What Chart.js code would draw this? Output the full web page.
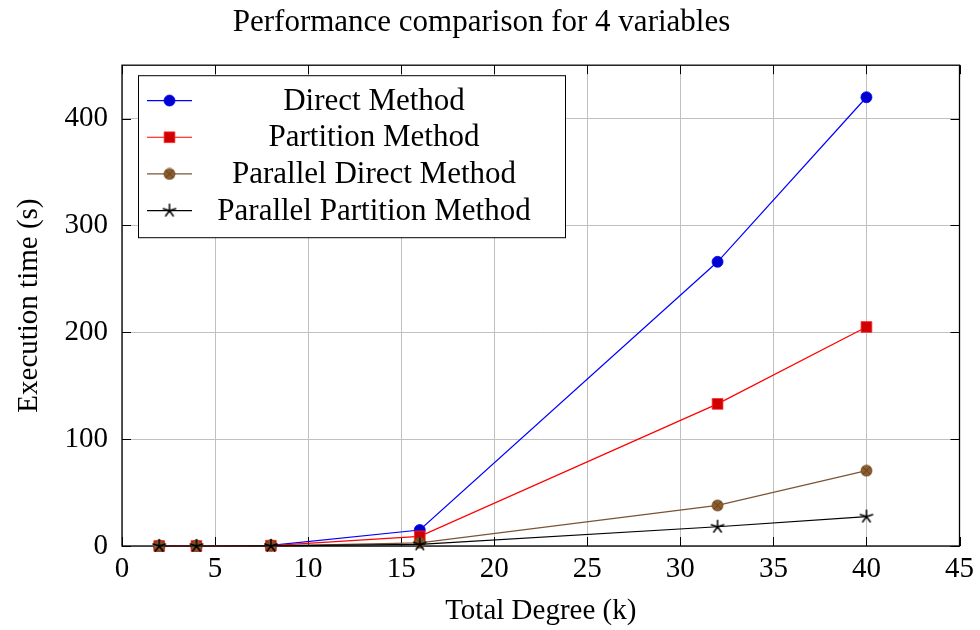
<!DOCTYPE html>
<html>
<head>
<meta charset="utf-8">
<script src="https://cdn.jsdelivr.net/npm/chart.js@4"></script>
<style>
  html, body { margin: 0; padding: 0; background: #fff; }
  #wrap { width: 980px; height: 630px; }
</style>
</head>
<body>
<div id="wrap"><canvas id="grafico" width="980" height="630"></canvas></div>
<script>
// degree values on the x axis
const graus = [2, 4, 8, 16, 32, 40];

// execution times (s)
const direto = [0.01, 0.05, 0.5, 15, 266, 420];
const particao = [0.01, 0.04, 0.3, 9, 133, 205];
const diretoParalelo = [0.01, 0.03, 0.2, 3, 38, 70.5];
const particaoParalela = [0.01, 0.02, 0.1, 1.5, 18, 27.5];

const nomes = ['Direct Method', 'Partition Method', 'Parallel Direct Method', 'Parallel Partition Method'];
const yTicks = [0, 100, 200, 300, 400];

const FONTE = '"Liberation Serif", "Times New Roman", serif';
Chart.defaults.font.family = FONTE;
Chart.defaults.color = '#000';

function pontos(valores) {
    return graus.map((x, i) => ({ x: x, y: valores[i] }));
}

// otimes* marker: filled circle with an x inside
function marcaOtimes(r, fill, stroke) {
    const c = document.createElement('canvas');
    const s = Math.ceil(r * 2 + 2);
    c.width = s; c.height = s;
    const g = c.getContext('2d');
    const m = s / 2;
    g.beginPath();
    g.arc(m, m, r, 0, Math.PI * 2);
    g.fillStyle = fill;
    g.fill();
    g.lineWidth = 0.8;
    g.strokeStyle = stroke;
    g.stroke();
    const d = r * 0.7;
    g.beginPath();
    g.moveTo(m - d, m - d); g.lineTo(m + d, m + d);
    g.moveTo(m + d, m - d); g.lineTo(m - d, m + d);
    g.strokeStyle = '#5a3a1a';
    g.lineWidth = 0.8;
    g.stroke();
    return c;
}

// pgfplots "star": five arms from the centre
function marcaEstrela(r) {
    const c = document.createElement('canvas');
    const s = 2 * Math.ceil(r + 1.5);
    c.width = s; c.height = s;
    const g = c.getContext('2d');
    const m = s / 2;
    g.beginPath();
    for (let k = 0; k < 5; k++) {
        const ang = -Math.PI / 2 + k * 2 * Math.PI / 5;
        g.moveTo(m, m);
        g.lineTo(m + r * Math.cos(ang), m + r * Math.sin(ang));
    }
    g.strokeStyle = '#000';
    g.lineWidth = 1.5;
    g.lineCap = 'round';
    g.stroke();
    return c;
}

const otimes = marcaOtimes(5.5, '#8c5c2c', '#6e4a26');
const estrela = marcaEstrela(6.5);

// frame + inner tick marks like pgfplots
const moldura = {
    id: 'moldura',
    beforeDatasetsDraw(chart) {
        const { ctx, chartArea: a, scales } = chart;
        ctx.save();
        ctx.strokeStyle = '#000';
        ctx.lineWidth = 1;
        const t = 9;
        scales.x.ticks.forEach(tk => {
            const px = Math.round(scales.x.getPixelForValue(tk.value)) + 0.5;
            ctx.beginPath();
            ctx.moveTo(px, a.bottom); ctx.lineTo(px, a.bottom - t);
            ctx.moveTo(px, a.top); ctx.lineTo(px, a.top + t);
            ctx.stroke();
        });
        scales.y.ticks.forEach(tk => {
            const py = Math.round(scales.y.getPixelForValue(tk.value)) + 0.5;
            ctx.beginPath();
            ctx.moveTo(a.left, py); ctx.lineTo(a.left + t, py);
            ctx.moveTo(a.right, py); ctx.lineTo(a.right - t, py);
            ctx.stroke();
        });
        ctx.lineWidth = 1.3;
        ctx.strokeRect(a.left, a.top, a.right - a.left, a.bottom - a.top);
        ctx.restore();
    }
};

// legend box inside the plot, top left
const legenda = {
    id: 'legenda',
    afterDatasetsDraw(chart) {
        const { ctx, chartArea: a } = chart;
        ctx.save();
        ctx.font = '31px ' + FONTE;
        const x0 = a.left + 16, y0 = a.top + 10;
        const w = 427;
        const linha = 36.7;
        const h = 162;
        ctx.fillStyle = '#fff';
        ctx.fillRect(x0, y0, w, h);
        ctx.strokeStyle = '#000';
        ctx.lineWidth = 1;
        ctx.strokeRect(x0 + 0.5, y0 + 0.5, w, h);
        chart.data.datasets.forEach((ds, i) => {
            const cy = y0 + 7 + linha * (i + 0.5);
            ctx.beginPath();
            ctx.strokeStyle = ds.borderColor;
            ctx.lineWidth = ds.borderWidth;
            ctx.moveTo(x0 + 9, cy); ctx.lineTo(x0 + 54, cy);
            ctx.stroke();
            const estilo = ds.pointStyle;
            if (typeof estilo === 'string') {
                ctx.fillStyle = ds.pointBackgroundColor;
                ctx.strokeStyle = ds.pointBorderColor;
                ctx.lineWidth = ds.pointBorderWidth;
                Chart.helpers.drawPoint(ctx, {
                    pointStyle: estilo,
                    radius: ds.pointRadius,
                    borderWidth: ds.pointBorderWidth,
                    rotation: 0
                }, x0 + 31.5, cy);
            } else {
                ctx.drawImage(estilo, x0 + 31.5 - estilo.width / 2, cy - estilo.height / 2);
            }
            ctx.fillStyle = '#000';
            ctx.textAlign = 'center';
            ctx.textBaseline = 'middle';
            ctx.fillText(nomes[i], x0 + 236, cy + 1);
        });
        ctx.restore();
    }
};

const ctx = document.getElementById('grafico').getContext('2d');

new Chart(ctx, {
    type: 'line',
    data: {
        datasets: [{
            label: nomes[0],
            data: pontos(direto),
            borderColor: '#0000ff',
            borderWidth: 1.2,
            pointStyle: 'circle',
            pointRadius: 5.5,
            pointBackgroundColor: '#0000d0',
            pointBorderColor: '#0000ff',
            pointBorderWidth: 0.8,
            order: 4
        }, {
            label: nomes[1],
            data: pontos(particao),
            borderColor: '#ff0000',
            borderWidth: 1.2,
            pointStyle: 'rect',
            pointRadius: 7.6,
            pointBackgroundColor: '#d00000',
            pointBorderColor: '#ff2a2a',
            pointBorderWidth: 0.8,
            order: 3
        }, {
            label: nomes[2],
            data: pontos(diretoParalelo),
            borderColor: '#7a5434',
            borderWidth: 1.2,
            pointStyle: otimes,
            pointRadius: 5.5,
            pointBackgroundColor: '#8c5c2c',
            pointBorderColor: '#6e4a26',
            pointBorderWidth: 0.8,
            order: 2
        }, {
            label: nomes[3],
            data: pontos(particaoParalela),
            borderColor: '#000000',
            borderWidth: 1.2,
            pointStyle: estrela,
            pointRadius: 6.5,
            pointBackgroundColor: '#000000',
            pointBorderColor: '#000000',
            pointBorderWidth: 1,
            order: 1
        }]
    },
    options: {
        responsive: false,
        animation: false,
        clip: false,
        layout: { padding: { left: 0, right: 17, top: 0, bottom: 0 } },
        elements: { line: { tension: 0 } },
        plugins: {
            legend: { display: false },
            tooltip: { enabled: false },
            title: {
                display: true,
                text: 'Performance comparison for 4 variables',
                font: { size: 31, weight: 'normal' },
                color: '#000',
                padding: { top: 4, bottom: 24 }
            }
        },
        scales: {
            x: {
                type: 'linear',
                min: 0,
                max: 45,
                ticks: { stepSize: 5, font: { size: 29 }, color: '#000', padding: 6, maxRotation: 0 },
                grid: { color: '#c0c0c0', lineWidth: 1, drawTicks: false },
                border: { display: false },
                title: {
                    display: true,
                    text: 'Total Degree (k)',
                    font: { size: 29 },
                    color: '#000',
                    padding: { top: 0, bottom: 1 }
                },
                afterFit(scale) { scale.height = 84; }
            },
            y: {
                min: 0,
                max: 450,
                ticks: { stepSize: 100, font: { size: 29 }, color: '#000', padding: 14 },
                afterBuildTicks(scale) {
                    scale.ticks = yTicks.map(v => ({ value: v }));
                },
                grid: { color: '#c0c0c0', lineWidth: 1, drawTicks: false },
                border: { display: false },
                title: {
                    display: true,
                    text: 'Execution time (s)',
                    font: { size: 29 },
                    color: '#000',
                    padding: { top: 12, bottom: 0 }
                },
                afterFit(scale) { scale.width = 122; }
            }
        }
    },
    plugins: [moldura, legenda]
});
</script>
</body>
</html>
